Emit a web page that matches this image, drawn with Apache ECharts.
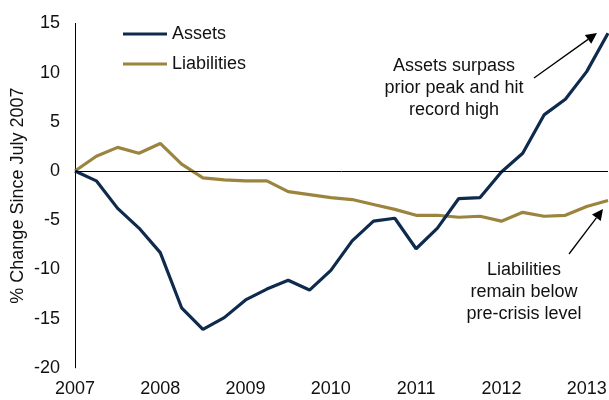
<!DOCTYPE html>
<html>
<head>
<meta charset="utf-8">
<script src="https://cdn.jsdelivr.net/npm/echarts@6/dist/echarts.min.js"></script>
<style>
  html, body { margin: 0; padding: 0; background: #fff; }
  #chart { width: 609px; height: 400px; }
</style>
</head>
<body>
<div id="chart"></div>
<script>
// Quarterly observations, starting July 2007
const quarters = [
  'Jul 2007', 'Oct 2007', 'Jan 2008', 'Apr 2008',
  'Jul 2008', 'Oct 2008', 'Jan 2009', 'Apr 2009',
  'Jul 2009', 'Oct 2009', 'Jan 2010', 'Apr 2010',
  'Jul 2010', 'Oct 2010', 'Jan 2011', 'Apr 2011',
  'Jul 2011', 'Oct 2011', 'Jan 2012', 'Apr 2012',
  'Jul 2012', 'Oct 2012', 'Jan 2013', 'Apr 2013',
  'Jul 2013', 'Oct 2013'
];

// % change since July 2007
const assets = [
  0, -1.0, -3.8, -5.8, -8.3, -13.9, -16.1, -14.9, -13.1, -12.0,
  -11.1, -12.1, -10.1, -7.1, -5.1, -4.8, -7.9, -5.8, -2.8, -2.7,
  -0.1, 1.8, 5.7, 7.3, 10.1, 14.0
];
const liabilities = [
  0, 1.5, 2.4, 1.8, 2.8, 0.7, -0.7, -0.9, -1.0, -1.0,
  -2.1, -2.4, -2.7, -2.9, -3.4, -3.9, -4.5, -4.5, -4.7, -4.6,
  -5.1, -4.2, -4.6, -4.5, -3.6, -3.0
];

const yTicks = { min: -20, max: 15, step: 5 };

const NAVY = '#0e2a4d';
const GOLD = '#9b843d';
const FONT = 'Liberation Sans, Arial, sans-serif';
const FS = 18;

const chart = echarts.init(document.getElementById('chart'), null, { renderer: 'canvas' });

// annotation arrow: shaft plus a filled triangular head
function arrow(x1, y1, x2, y2) {
  const ang = Math.atan2(y2 - y1, x2 - x1);
  const len = 11, half = 5.5;
  const bx = x2 - len * Math.cos(ang), by = y2 - len * Math.sin(ang);
  const px = -Math.sin(ang) * half, py = Math.cos(ang) * half;
  return [
    { type: 'line', shape: { x1: x1, y1: y1, x2: bx, y2: by },
      style: { stroke: '#000', lineWidth: 1.3 }, silent: true },
    { type: 'polygon', shape: { points: [[x2, y2], [bx + px, by + py], [bx - px, by - py]] },
      style: { fill: '#000' }, silent: true }
  ];
}

// centred multi-line note
function note(lines, cx, top) {
  return {
    type: 'text', x: cx, y: top, silent: true,
    style: {
      text: lines.join('\n'), align: 'center', verticalAlign: 'top',
      font: FS + 'px ' + FONT, fill: '#111', lineHeight: 22
    }
  };
}

chart.setOption({
  animation: false,
  backgroundColor: '#fff',
  grid: { left: 75, right: 1, top: 23.4, bottom: 32.2, containLabel: false, outerBoundsMode: 'none' },
  legend: {
    orient: 'vertical', left: 123, top: 25, padding: 0,
    itemWidth: 44, itemHeight: 3, itemGap: 12,
    icon: 'rect',
    textStyle: { fontFamily: FONT, fontSize: FS, color: '#111' },
    data: ['Assets', 'Liabilities']
  },
  xAxis: {
    type: 'category',
    data: quarters,
    boundaryGap: false,
    axisLine: { show: false },
    axisTick: { show: false },
    splitLine: { show: false },
    axisLabel: {
      interval: 3, margin: 12,
      fontFamily: FONT, fontSize: FS, color: '#111',
      formatter: v => v.split(' ')[1]
    }
  },
  yAxis: {
    type: 'value',
    min: yTicks.min, max: yTicks.max, interval: yTicks.step,
    name: '% Change Since July 2007',
    nameLocation: 'middle', nameRotate: 90, nameGap: 48, nameMoveOverlap: false,
    nameTextStyle: { fontFamily: FONT, fontSize: FS, color: '#111' },
    axisLine: { show: true, onZero: false, lineStyle: { color: '#000', width: 1 } },
    axisTick: { show: false },
    splitLine: { show: false },
    axisLabel: { margin: 15, fontFamily: FONT, fontSize: FS, color: '#111' }
  },
  series: [
    {
      name: 'Assets', type: 'line', data: assets,
      symbol: 'none', z: 3,
      lineStyle: { color: NAVY, width: 3.2 }, itemStyle: { color: NAVY },
      markLine: {
        silent: true, symbol: 'none', label: { show: false },
        lineStyle: { color: '#000', width: 1, type: 'solid' },
        data: [{ yAxis: 0 }]
      }
    },
    {
      name: 'Liabilities', type: 'line', data: liabilities,
      symbol: 'none', z: 2,
      lineStyle: { color: GOLD, width: 3.2 }, itemStyle: { color: GOLD }
    }
  ],
  graphic: [
    note(['Assets surpass', 'prior peak and hit', 'record high'], 454, 55),
    note(['Liabilities', 'remain below', 'pre-crisis level'], 524, 259),
    ...arrow(534, 78, 597, 33),
    ...arrow(569, 254, 603, 209)
  ]
});
</script>
</body>
</html>
